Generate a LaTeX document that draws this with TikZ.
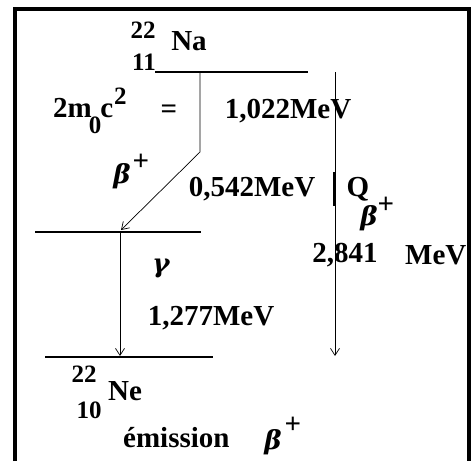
\documentclass[tikz,border=0pt]{standalone}
\usepackage{fontspec}
\setmainfont{Liberation Serif}
\newfontfamily\grkfont{DejaVu Serif}
\usetikzlibrary{arrows.meta}
\begin{document}
\begin{tikzpicture}[x=1pt,y=-1pt,
  lvl/.style={line width=2pt},
  tr/.style={line width=0.7pt,-{Straight Barb[length=7pt,width=9pt,line width=0.7pt]}},
  txt/.style={font=\fontsize{29}{32}\selectfont\bfseries,inner sep=0pt},
  sm/.style={font=\fontsize{25}{28}\selectfont\bfseries,inner sep=0pt},
  gr/.style={font=\fontsize{26}{30}\selectfont\grkfont\bfseries\itshape,inner sep=0pt}]
\useasboundingbox (0,0) rectangle (471,461);
\draw[line width=4pt] (15,461) -- (15,9) -- (469,9) -- (469,461);
% levels
\coordinate (naL) at (155,72); \coordinate (naR) at (308,72);
\coordinate (exL) at (35,232); \coordinate (exR) at (201,232);
\coordinate (neL) at (45,357); \coordinate (neR) at (213,357);
\draw[lvl] (naL) -- (naR);
\draw[lvl] (exL) -- (exR);
\draw[lvl] (neL) -- (neR);
% beta+ transition
\coordinate (b0) at (200,72); \coordinate (b1) at (200,152); \coordinate (b2) at (121,230);
\draw[tr] (b0) -- (b1) -- (b2);
% gamma
\coordinate (g0) at (120,232); \coordinate (g1) at (120,356);
\draw[tr] (g0) -- (g1);
% Q
\coordinate (q0) at (335,72); \coordinate (q1) at (335,356);
\coordinate (qa) at (334,172); \coordinate (qb) at (334,206);
\draw[tr] (q0) -- (q1);
\draw[line width=2.2pt] (qa) -- (qb);
% labels
\node[sm] (naA) at (143,30) {22};
\node[sm] (naZ) at (144,62) {11};
\node[txt] (na) at (189,41) {Na};
\node[txt,anchor=base west] (mc) at (53,117)
  {2m\kern-3pt\raisebox{-16pt}{\fontsize{25}{28}\selectfont 0}\kern-1pt c\kern1pt\raisebox{13pt}{\fontsize{25}{28}\selectfont 2}};
\node[txt] (eq) at (169,112) {=};
\node[txt] (e1) at (288,111) {1,022MeV};
\node[gr] (bp) at (122,176) {β};
\node[txt] (bpp) at (141,162) {+};
\node[txt] (e2) at (252,189) {0,542MeV};
\node[txt] (Q) at (358,189) {Q};
\node[gr] (Qb) at (369,218) {β};
\node[txt] (Qbp) at (386,205) {+};
\node[gr] (gam) at (161,268) {γ};
\node[txt] (e3) at (345,255) {2,841};
\node[txt,anchor=west] (e3u) at (405,255) {MeV};
\node[txt] (e4) at (211,318) {1,277MeV};
\node[sm] (neA) at (84,374) {22};
\node[txt] (ne) at (125,391) {Ne};
\node[sm] (neZ) at (89,410) {10};
\node[txt,anchor=base west] (em) at (123,447) {émission};
\node[gr] (bp2) at (273,442) {β};
\node[txt] (bp2p) at (293,425) {+};
\end{tikzpicture}
\end{document}
